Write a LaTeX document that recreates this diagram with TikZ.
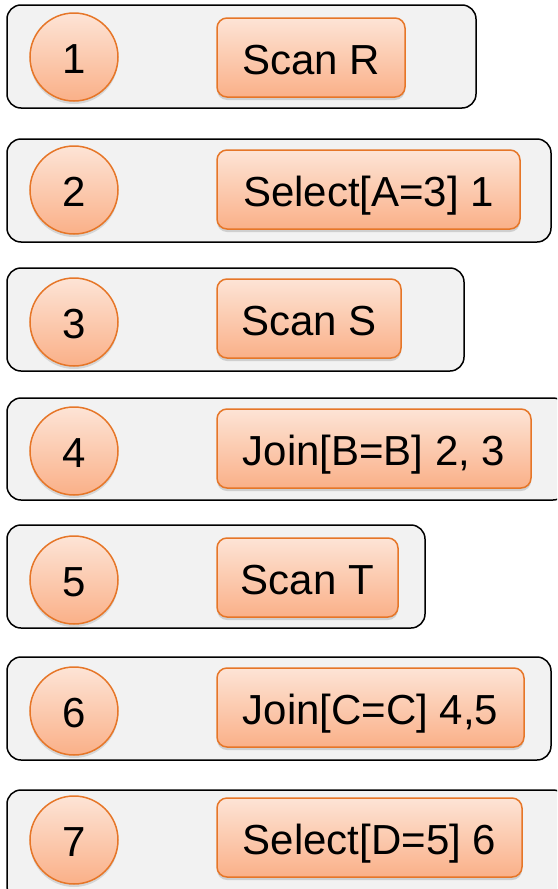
\documentclass[tikz,border=0pt]{standalone}
\usepackage{fontspec}
\setmainfont{Liberation Sans}
\usetikzlibrary{shadows}
\definecolor{boxfill}{RGB}{242,242,242}
\definecolor{ortop}{RGB}{253,228,214}
\definecolor{orbot}{RGB}{250,176,136}
\definecolor{orline}{RGB}{230,118,40}
\begin{document}
\begin{tikzpicture}[x=1pt,y=-1pt,
  outerbox/.style={draw=black, line width=1.5pt, fill=boxfill, rounded corners=14pt, inner sep=0pt},
  numcircle/.style={circle, draw=orline, line width=1.5pt, top color=ortop, bottom color=orbot, minimum size=88pt, inner sep=0pt, font=\fontsize{42}{46}\selectfont,
     text height=30pt, text depth=0pt,
     drop shadow={opacity=0.25, shadow xshift=0pt, shadow yshift=-3pt}},
  opbox/.style={draw=orline, line width=1.5pt, top color=ortop, bottom color=orbot, rounded corners=10pt, minimum height=79pt, inner sep=0pt, font=\fontsize{42}{46}\selectfont,
     text height=30pt, text depth=0pt,
     drop shadow={opacity=0.3, shadow xshift=0pt, shadow yshift=-3pt}},
  lbl/.style={inner sep=0pt, font=\fontsize{42}{46}\selectfont, text height=30pt, text depth=0pt}]
\path[use as bounding box] (0,0) rectangle (557,889);
\clip (0,0) rectangle (557,889);
% outer boxes
\node[outerbox, minimum width=469pt, minimum height=103pt] (o1) at (241.5,56.5) {};
\node[outerbox, minimum width=544pt, minimum height=103pt] (o2) at (279,190.5) {};
\node[outerbox, minimum width=457pt, minimum height=103pt] (o3) at (235.5,319.5) {};
\node[outerbox, minimum width=560pt, minimum height=102pt] (o4) at (287,449) {};
\node[outerbox, minimum width=418pt, minimum height=103pt] (o5) at (216,576.5) {};
\node[outerbox, minimum width=544pt, minimum height=103pt] (o6) at (279,708.5) {};
\node[outerbox, minimum width=560pt, minimum height=110pt] (o7) at (287,845) {};
% circles
\node[numcircle] (c1) at (74,57) {};
\node[numcircle] (c2) at (74,190) {};
\node[numcircle] (c3) at (74,322) {};
\node[numcircle] (c4) at (74,451) {};
\node[numcircle] (c5) at (74,580) {};
\node[numcircle] (c6) at (74,711) {};
\node[numcircle] (c7) at (74,840) {};
\node[lbl] (n1) at ([yshift=-1.5pt]c1.center) {1};
\node[lbl] (n2) at ([yshift=-1.5pt]c2.center) {2};
\node[lbl] (n3) at ([yshift=-1.5pt]c3.center) {3};
\node[lbl] (n4) at ([yshift=-1.5pt]c4.center) {4};
\node[lbl] (n5) at ([yshift=-1.5pt]c5.center) {5};
\node[lbl] (n6) at ([yshift=-1.5pt]c6.center) {6};
\node[lbl] (n7) at ([yshift=-1.5pt]c7.center) {7};
% operator boxes
\node[opbox, minimum width=188pt] (b1) at (311,57.5) {};
\node[opbox, minimum width=303pt] (b2) at (368.5,189.5) {};
\node[opbox, minimum width=184pt] (b3) at (309,318.5) {};
\node[opbox, minimum width=314pt] (b4) at (374,448.5) {};
\node[opbox, minimum width=181pt] (b5) at (307.5,577.5) {};
\node[opbox, minimum width=307pt] (b6) at (370.5,707.5) {};
\node[opbox, minimum width=305pt] (b7) at (369.5,837.5) {};
\node[lbl] (t1) at ([yshift=-1.5pt]b1.center) {Scan R};
\node[lbl] (t2) at ([yshift=-1.5pt]b2.center) {Select[A=3] 1};
\node[lbl] (t3) at ([yshift=-1.5pt]b3.center) {Scan S};
\node[lbl] (t4) at ([yshift=-1.5pt]b4.center) {Join[B=B] 2, 3};
\node[lbl] (t5) at ([yshift=-1.5pt]b5.center) {Scan T};
\node[lbl] (t6) at ([yshift=-1.5pt]b6.center) {Join[C=C] 4,5};
\node[lbl] (t7) at ([yshift=-1.5pt]b7.center) {Select[D=5] 6};
\end{tikzpicture}
\end{document}
